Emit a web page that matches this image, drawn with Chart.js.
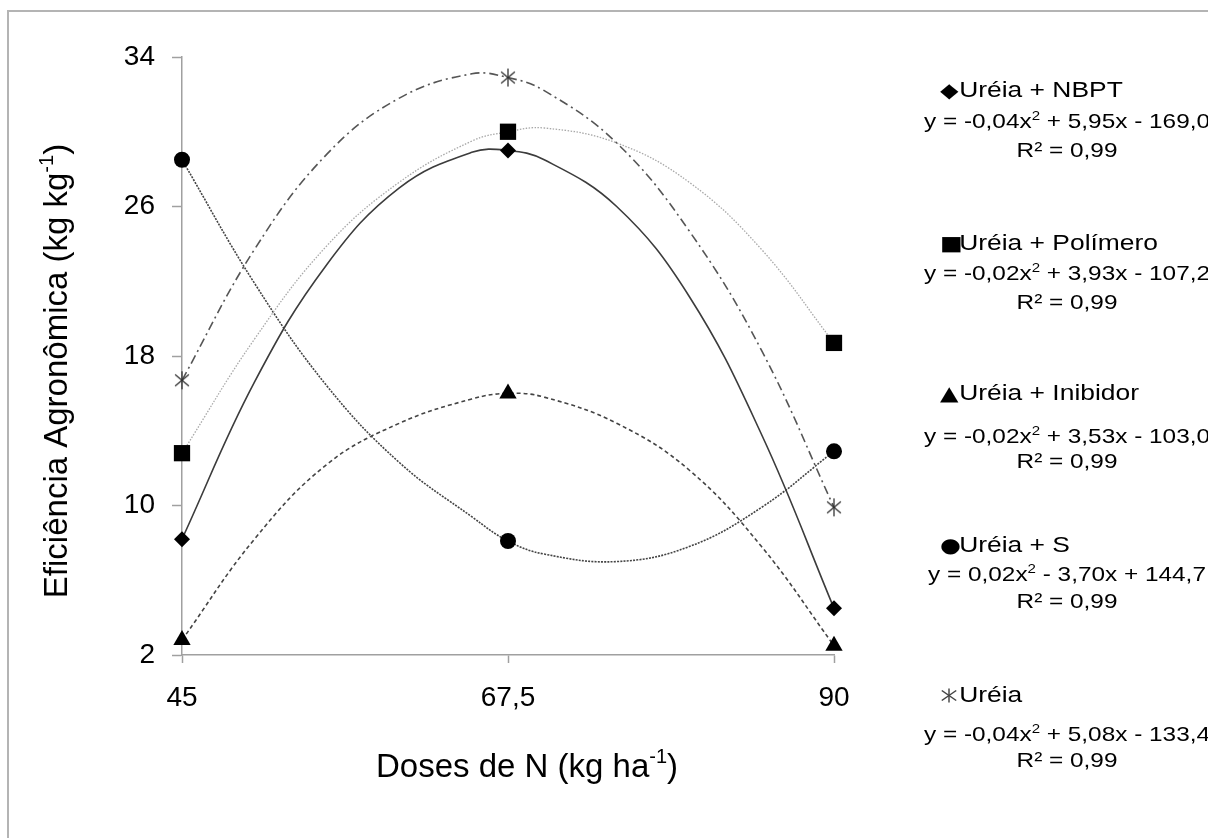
<!DOCTYPE html>
<html lang="pt">
<head>
<meta charset="utf-8">
<title>Eficiência Agronômica</title>
<script src="https://cdn.jsdelivr.net/npm/chart.js@4.4.1/dist/chart.umd.min.js"></script>
<style>
    html, body { margin: 0; padding: 0; background: #fff; overflow: hidden; }
    body { width: 1208px; height: 838px; position: relative; font-family: "Liberation Sans", Arial, sans-serif; }
    #frame { position: absolute; left: 7px; top: 10px; width: 1300px; height: 900px; border: 2px solid #b4b4b4; }
    #chart { position: absolute; left: 0; top: 0; }
    .row { position: absolute; white-space: nowrap; color: #000; font-size: 21px; line-height: 24px; }
    .lbl { left: 940px; font-size: 22px; transform: scaleX(1.2); transform-origin: left center; }
    .eq, .r2 { left: 900px; width: 334px; text-align: center; transform: scaleX(1.16); transform-origin: center; }
    .eq sup { font-size: 13px; line-height: 0; vertical-align: 8px; }
    .mk { display: inline-block; width: 16px; font-family: "DejaVu Sans", sans-serif; font-size: 20px; }
</style>
</head>
<body>
<div id="frame"></div>
<canvas id="chart" width="1208" height="838"></canvas>
<div id="legend"></div>
<script>
// Doses de N (kg/ha) and measured agronomic efficiency for each source
const doses = [45, 67.5, 90];
const xTickLabels = ["45", "67,5", "90"];
const yTicks = [2, 10, 18, 26, 34];

const ureiaNbpt = [8.2, 29.0, 4.5];
const ureiaPolimero = [12.8, 30.0, 18.7];
const ureiaInibidor = [2.8, 16.0, 2.5];
const ureiaS = [28.5, 8.1, 12.9];
const ureia = [16.7, 32.9, 9.9];

// Polynomial trend lines, sampled along the dose range
const trendDoses = [45, 50, 55, 60, 65, 67.5, 70, 75, 80, 85, 90];
const trendNbpt = [8.2, 16.6, 22.9, 27.0, 28.9, 29.0, 28.5, 26.0, 21.2, 13.8, 4.5];
const trendPolimero = [12.8, 18.9, 23.9, 27.3, 29.5, 30.0, 30.2, 29.4, 27.3, 23.7, 18.7];
const trendInibidor = [2.8, 8.2, 12.2, 14.4, 15.7, 16.0, 15.8, 14.4, 11.9, 7.8, 2.5];
const trendS = [28.5, 21.9, 16.4, 12.3, 9.4, 8.1, 7.4, 7.0, 7.8, 9.9, 12.9];
const trendUreia = [16.7, 23.7, 28.8, 31.8, 33.1, 32.9, 32.2, 29.4, 24.7, 18.3, 9.9];

const seriesNames = ["Uréia + NBPT", "Uréia + Polímero", "Uréia + Inibidor", "Uréia + S", "Uréia"];
const equations = [
    "y = -0,04x<sup>2</sup> + 5,95x - 169,0",
    "y = -0,02x<sup>2</sup> + 3,93x - 107,2",
    "y = -0,02x<sup>2</sup> + 3,53x - 103,0",
    "y = 0,02x<sup>2</sup> - 3,70x + 144,7",
    "y = -0,04x<sup>2</sup> + 5,08x - 133,4"
];
const r2Labels = ["R² = 0,99", "R² = 0,99", "R² = 0,99", "R² = 0,99", "R² = 0,99"];

// Axis titles as [text, superscript, closing text]
const xTitle = ["Doses de N (kg ha", "-1", ")"];
const yTitle = ["Eficiência Agronômica (kg kg", "-1", ")"];

const FONT = "'Liberation Sans', Arial, sans-serif";
const AXIS_GRAY = "#a0a0a0";

// Six-armed asterisk marker used for plain urea
function asteriskImage(size, color) {
    const c = document.createElement("canvas");
    c.width = size;
    c.height = size;
    const g = c.getContext("2d");
    g.strokeStyle = color;
    g.lineWidth = 1.3;
    const m = size / 2, r = size / 2 - 1;
    [90, 40, -40].forEach(a => {
        const t = a * Math.PI / 180;
        g.beginPath();
        g.moveTo(m - r * Math.cos(t), m - r * Math.sin(t));
        g.lineTo(m + r * Math.cos(t), m + r * Math.sin(t));
        g.stroke();
    });
    return c;
}

function toPoints(xs, ys) {
    return xs.map((x, i) => ({ x: x, y: ys[i] }));
}

const markerSets = [
    { data: ureiaNbpt, style: "rectRot", radius: 8 },
    { data: ureiaPolimero, style: "rect", radius: 11.5 },
    { data: ureiaInibidor, style: "triangle", radius: 10 },
    { data: ureiaS, style: "circle", radius: 8 },
    { data: ureia, style: asteriskImage(20, "#333"), radius: 9 }
];

const trendSets = [
    { data: trendNbpt, color: "#3c3c3c", width: 1.6, dash: [] },
    { data: trendPolimero, color: "#a8a8a8", width: 1.3, dash: [1.5, 1.5] },
    { data: trendInibidor, color: "#444", width: 1.6, dash: [4, 3] },
    { data: trendS, color: "#444", width: 1.6, dash: [2, 1.2] },
    { data: trendUreia, color: "#555", width: 1.6, dash: [9, 4, 2, 4] }
];

const datasets = [];

// Markers go first so they are painted over the trend lines
markerSets.forEach((m, i) => {
    datasets.push({
        label: seriesNames[i],
        data: toPoints(doses, m.data),
        showLine: false,
        pointStyle: m.style,
        pointRadius: m.radius,
        pointBackgroundColor: "#000",
        pointBorderColor: "#000",
        pointBorderWidth: 0,
        clip: false
    });
});

trendSets.forEach((t, i) => {
    datasets.push({
        label: seriesNames[i] + " (tendência)",
        data: toPoints(trendDoses, t.data),
        showLine: true,
        borderColor: t.color,
        borderWidth: t.width,
        borderDash: t.dash,
        pointRadius: 0,
        tension: 0.4,
        fill: false,
        clip: false
    });
});

// Draws a title made of pieces, the middle piece as a superscript
function drawTitle(c, parts, cx, cy, rotate) {
    const big = "33px " + FONT, small = "20px " + FONT;
    c.save();
    c.translate(cx, cy);
    if (rotate) c.rotate(-Math.PI / 2);
    c.fillStyle = "#000";
    c.textBaseline = "middle";
    c.textAlign = "left";
    c.font = big;
    const w0 = c.measureText(parts[0]).width, w2 = c.measureText(parts[2]).width;
    c.font = small;
    const w1 = c.measureText(parts[1]).width;
    let x = -(w0 + w1 + w2) / 2;
    c.font = big;
    c.fillText(parts[0], x, 0);
    x += w0;
    c.font = small;
    c.fillText(parts[1], x, -11);
    x += w1;
    c.font = big;
    c.fillText(parts[2], x, 0);
    c.restore();
}

const axisTitles = {
    id: "axisTitles",
    afterDraw(chart) {
        const area = chart.chartArea;
        drawTitle(chart.ctx, xTitle, (area.left + area.right) / 2 + 19, area.bottom + 113, false);
        drawTitle(chart.ctx, yTitle, 58, (area.top + area.bottom) / 2 + 15, true);
    }
};

const ctx = document.querySelector("#chart").getContext("2d");

const chart = new Chart(ctx, {
    type: "scatter",
    data: { datasets: datasets },
    plugins: [axisTitles],
    options: {
        responsive: false,
        animation: false,
        layout: { padding: { left: 0, top: 57, right: 374, bottom: 0 } },
        plugins: {
            legend: { display: false },
            tooltip: { enabled: false }
        },
        scales: {
            x: {
                type: "linear",
                min: 45,
                max: 90,
                afterBuildTicks: scale => { scale.ticks = doses.map(v => ({ value: v })); },
                afterFit: scale => { scale.height = 183; },
                ticks: {
                    callback: (value, index) => xTickLabels[index],
                    font: { family: FONT, size: 28 },
                    color: "#000",
                    padding: 18,
                    maxRotation: 0,
                    autoSkip: false
                },
                grid: { drawOnChartArea: false, tickLength: 8, tickColor: AXIS_GRAY, tickWidth: 1.5 },
                border: { color: AXIS_GRAY, width: 1.5 }
            },
            y: {
                min: 2,
                max: 34,
                afterBuildTicks: scale => { scale.ticks = yTicks.map(v => ({ value: v })); },
                afterFit: scale => { scale.width = 182; },
                ticks: {
                    font: { family: FONT, size: 28 },
                    color: "#000",
                    padding: 17
                },
                grid: { drawOnChartArea: false, tickLength: 10, tickColor: AXIS_GRAY, tickWidth: 1.5 },
                border: { color: AXIS_GRAY, width: 1.5 }
            }
        }
    }
});

// Legend with the fitted equations, built as text beside the plot
const legendGlyphs = ["◆", "■", "▲", "●", null];
const legendRows = [
    [90, 121, 150],
    [243, 273, 302],
    [393, 436, 461],
    [545, 574, 601],
    [695, 734, 760]
];
const asteriskSvg = '<svg width="15" height="15" viewBox="0 0 15 15" style="vertical-align:-1px">' +
    '<g stroke="#444" stroke-width="1.2"><line x1="7.5" y1="0.5" x2="7.5" y2="14.5"/>' +
    '<line x1="1.5" y1="2.5" x2="13.5" y2="12.5"/><line x1="1.5" y1="12.5" x2="13.5" y2="2.5"/></g></svg>';

const legend = document.querySelector("#legend");
seriesNames.forEach((name, i) => {
    const [yl, ye, yr] = legendRows[i];
    const mark = legendGlyphs[i] ? legendGlyphs[i] : asteriskSvg;
    legend.insertAdjacentHTML("beforeend",
        `<div class="row lbl" style="top:${yl - 12}px"><span class="mk">${mark}</span>${name}</div>` +
        `<div class="row eq" style="top:${ye - 12}px">${equations[i]}</div>` +
        `<div class="row r2" style="top:${yr - 12}px">${r2Labels[i]}</div>`);
});
</script>
</body>
</html>
